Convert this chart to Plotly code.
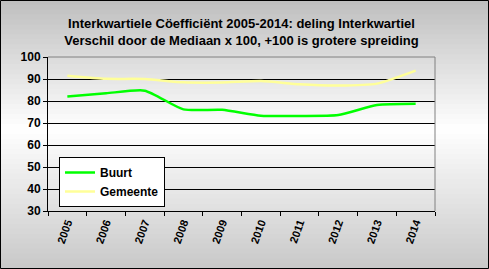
import plotly.graph_objects as go

years = ["2005", "2006", "2007", "2008", "2009", "2010", "2011", "2012", "2013", "2014"]
buurt = [82.0, 83.5, 84.7, 76.2, 76.0, 73.3, 73.2, 73.6, 78.2, 78.8]
gemeente = [91.5, 90.1, 90.0, 88.5, 88.4, 89.1, 87.6, 87.0, 87.9, 93.8]
title_lines = ["Interkwartiele Cöefficiënt 2005-2014: deling Interkwartiel",
               "Verschil door de Mediaan x 100, +100 is grotere spreiding"]

W, H = 489, 269
L, R, T, B = 48, 54, 57, 58
pw, ph = W - L - R, H - T - B

fig = go.Figure()
fig.add_trace(go.Scatter(x=years, y=buurt, name="Buurt", mode="lines",
                         line=dict(color="#00FF00", width=2.5, shape="spline", smoothing=0.6)))
fig.add_trace(go.Scatter(x=years, y=gemeente, name="Gemeente", mode="lines",
                         line=dict(color="#FFFF99", width=2.5, shape="spline", smoothing=0.6)))

font_main = "Liberation Sans, Arial, sans-serif"
fig.update_layout(
    width=W, height=H,
    margin=dict(l=L, r=R, t=T, b=B),
    paper_bgcolor="#E2E2E2",
    plot_bgcolor="#C0C0C0",
    title=dict(text="<b>" + "<br>".join(title_lines) + "</b>",
               x=0.5, xref="paper", xanchor="center",
               yref="container", y=1 - 28 / H, yanchor="middle",
               font=dict(family=font_main, size=13, color="black")),
    showlegend=True,
    legend=dict(x=(59 - L) / pw, y=(211 - 207) / ph, xanchor="left", yanchor="bottom",
                bgcolor="white", bordercolor="black", borderwidth=1,
                font=dict(family=font_main, size=12, color="black", weight="bold"),
                tracegroupgap=0, itemwidth=30),
    xaxis=dict(type="category", tickson="boundaries", ticks="outside", ticklen=4,
               tickcolor="black", showline=True, linecolor="black", linewidth=1,
               showgrid=False, tickangle=-70,
               tickfont=dict(family=font_main, size=11, color="black", weight="bold"),
               range=[-0.5, 9.5]),
    yaxis=dict(range=[30, 100], dtick=10, ticks="outside", ticklen=4, tickcolor="black",
               showline=True, linecolor="black", linewidth=1,
               showgrid=True, gridcolor="black", gridwidth=1,
               tickfont=dict(family=font_main, size=12, color="black", weight="bold"),
               zeroline=False),
    font=dict(family=font_main, color="black"),
)

# vertical gradient background: gray top -> white middle -> gray bottom
nb = 54
top_c, mid_c, bot_c = 190, 255, 200
mid_frac = 130 / H
for i in range(nb):
    f0 = i / nb
    f1 = (i + 1) / nb
    fc = (f0 + f1) / 2
    if fc < mid_frac:
        v = top_c + (mid_c - top_c) * (fc / mid_frac)
    else:
        v = mid_c + (bot_c - mid_c) * ((fc - mid_frac) / (1 - mid_frac))
    v = int(round(v))
    y_top_px = f0 * H
    y_bot_px = f1 * H
    fig.add_shape(type="rect", xref="paper", yref="paper", layer="below",
                  x0=-L / pw, x1=(W - L) / pw,
                  y0=(H - B - y_bot_px - 0.5) / ph, y1=(H - B - y_top_px + 0.5) / ph,
                  fillcolor=f"rgb({v},{v},{v})", line=dict(width=0))

# gray plot-area border on top and right
fig.add_shape(type="line", xref="paper", yref="paper", x0=0, x1=1, y0=1, y1=1,
              line=dict(color="#808080", width=1))
fig.add_shape(type="line", xref="paper", yref="paper", x0=1, x1=1, y0=0, y1=1,
              line=dict(color="#808080", width=1))
# outer black border
fig.add_shape(type="rect", xref="paper", yref="paper",
              x0=(-L + 0.5) / pw, x1=(W - L - 0.5) / pw,
              y0=(-B + 0.5) / ph, y1=(H - B - 0.5) / ph,
              line=dict(color="black", width=1))

fig.write_html("out.html")
